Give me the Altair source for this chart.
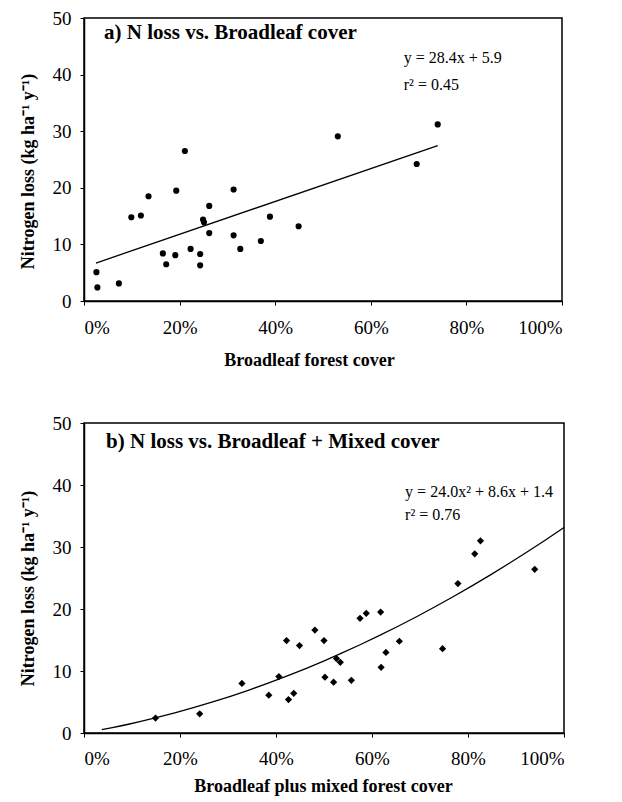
import altair as alt
import pandas as pd

# Panel a: broadleaf cover (fraction) vs N loss
a_x = [0.026, 0.028, 0.073, 0.099, 0.119, 0.135, 0.165, 0.172, 0.191, 0.193,
       0.211, 0.223, 0.243, 0.243, 0.249, 0.251, 0.262, 0.262, 0.313, 0.313,
       0.327, 0.370, 0.389, 0.449, 0.531, 0.696, 0.740]
a_y = [5.1, 2.4, 3.1, 14.8, 15.1, 18.5, 8.4, 6.5, 8.1, 19.5,
       26.5, 9.2, 8.3, 6.3, 14.4, 13.9, 12.0, 16.8, 19.7, 11.6,
       9.2, 10.6, 14.9, 13.2, 29.1, 24.2, 31.2]

# Panel b: broadleaf + mixed cover vs N loss
b_x = [0.149, 0.241, 0.329, 0.385, 0.406, 0.422, 0.426, 0.437, 0.449, 0.481,
       0.500, 0.502, 0.520, 0.526, 0.534, 0.557, 0.575, 0.588, 0.618, 0.619,
       0.629, 0.657, 0.747, 0.779, 0.814, 0.826, 0.939]
b_y = [2.4, 3.1, 8.0, 6.1, 9.1, 14.9, 5.4, 6.4, 14.1, 16.6,
       14.9, 9.0, 8.2, 12.0, 11.4, 8.5, 18.5, 19.3, 19.5, 10.6,
       13.0, 14.8, 13.6, 24.1, 28.9, 31.0, 26.4]

# Trend-line extents (x range over which each fitted line is drawn)
a_fit_extent = [0.025, 0.74]
b_fit_extent = [0.037, 1.0]

y_ticks = [0, 10, 20, 30, 40, 50]
x_ticks = [0, 0.2, 0.4, 0.6, 0.8, 1.0]

titles = ["a) N loss vs. Broadleaf cover", "b) N loss vs. Broadleaf + Mixed cover"]
eq_a = ["y = 28.4x + 5.9", "r\u00b2 = 0.45"]
eq_b = ["y = 24.0x\u00b2 + 8.6x + 1.4", "r\u00b2 = 0.76"]
x_titles = ["Broadleaf forest cover", "Broadleaf plus mixed forest cover"]
y_title = "Nitrogen loss (kg ha\u207b\u00b9 y\u207b\u00b9)"

FONT = "Liberation Serif"


def panel(xs, ys, method, extent, shape, size, title, eq, x_title,
          w, h, label_pad_x, title_x, title_y_x, title_y_y, text_pos):
    df = pd.DataFrame({"x": xs, "y": ys})
    xscale = alt.Scale(domain=[0, 1], nice=False)
    yscale = alt.Scale(domain=[0, 50], nice=False)
    xaxis = alt.Axis(values=x_ticks, format=".0%", title=x_title,
                     labelPadding=label_pad_x, titleX=title_x, titleY=title_y_x,
                     titleBaseline="middle", titleAlign="center")
    yaxis = alt.Axis(values=y_ticks, title=y_title, labelPadding=9,
                     titleX=-56, titleY=title_y_y, titleBaseline="middle",
                     titleAlign="center")
    pts = alt.Chart(df).mark_point(shape=shape, filled=True, color="black",
                                   size=size, opacity=1).encode(
        x=alt.X("x:Q", scale=xscale, axis=xaxis),
        y=alt.Y("y:Q", scale=yscale, axis=yaxis),
    )
    if method == "linear":
        reg = alt.Chart(df).transform_regression("x", "y", method="linear",
                                                 extent=extent)
    else:
        reg = alt.Chart(df).transform_regression("x", "y", method="poly",
                                                 order=2, extent=extent)
    line = reg.mark_line(color="black", strokeWidth=1.3).encode(
        x=alt.X("x:Q", scale=xscale),
        y=alt.Y("y:Q", scale=yscale),
    )
    (tx, ty), (ex, ey1, ey2) = text_pos
    ttl = alt.Chart().mark_text(font=FONT, fontWeight="bold", fontSize=21,
                                align="left", baseline="alphabetic",
                                color="black").encode(
        x=alt.X(datum=tx, scale=xscale), y=alt.Y(datum=ty, scale=yscale),
        text=alt.value(title))
    e1 = alt.Chart().mark_text(font=FONT, fontSize=16, align="left",
                               baseline="alphabetic", color="black").encode(
        x=alt.X(datum=ex, scale=xscale), y=alt.Y(datum=ey1, scale=yscale),
        text=alt.value(eq[0]))
    e2 = alt.Chart().mark_text(font=FONT, fontSize=16, align="left",
                               baseline="alphabetic", color="black").encode(
        x=alt.X(datum=ex, scale=xscale), y=alt.Y(datum=ey2, scale=yscale),
        text=alt.value(eq[1]))
    return alt.layer(line, pts, ttl, e1, e2).properties(width=w, height=h)


pa = panel(a_x, a_y, "linear", a_fit_extent, "circle", 38, titles[0], eq_a,
           x_titles[0], 478, 283, 13, 225, 59, 153,
           ((0.042, 46.3), (0.669, 42.1, 37.2)))
pb = panel(b_x, b_y, "poly", b_fit_extent, "diamond", 52, titles[1], eq_b,
           x_titles[1], 480, 310, 12, 239, 53, 165,
           ((0.046, 46.0), (0.669, 38.1, 34.4)))

chart = alt.vconcat(pa, pb, spacing=43).properties(
    padding={"left": 10, "top": 0, "right": 5, "bottom": 0},
    background="white"
).configure_view(
    stroke="black", strokeWidth=1.5
).configure_axis(
    grid=False, domainColor="black", domainWidth=1.5, tickColor="black",
    tickSize=4, labelFont=FONT, labelFontSize=19, labelColor="black",
    titleFont=FONT, titleFontSize=18, titleFontWeight="bold", titleColor="black"
)

chart.save("out.html", embed_options={"renderer": "svg", "actions": False})
